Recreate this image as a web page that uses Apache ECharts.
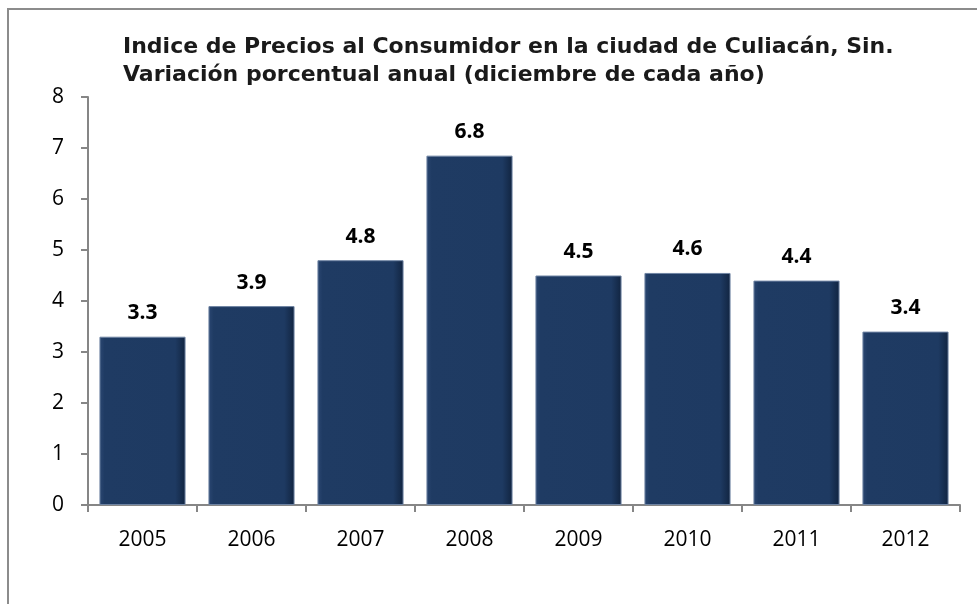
<!DOCTYPE html>
<html>
<head>
<meta charset="utf-8">
<script src="https://cdn.jsdelivr.net/npm/echarts@6/dist/echarts.min.js"></script>
<style>
  html, body { margin: 0; padding: 0; background: #fff; }
  #chart { width: 977px; height: 604px; }
</style>
</head>
<body>
<div id="chart"></div>
<script>
// datos
const years = ['2005', '2006', '2007', '2008', '2009', '2010', '2011', '2012'];
const values = [3.3, 3.9, 4.8, 6.85, 4.5, 4.55, 4.4, 3.4];
const labels = ['3.3', '3.9', '4.8', '6.8', '4.5', '4.6', '4.4', '3.4'];
const yTicks = [0, 1, 2, 3, 4, 5, 6, 7, 8];

const titleText = 'Indice de Precios al Consumidor en la ciudad de Culiacán, Sin.\nVariación porcentual anual (diciembre de cada año)';

let chart = echarts.init(document.getElementById('chart'), null, { renderer: 'canvas' });

const barColor = {
  type: 'linear', x: 0, y: 0, x2: 1, y2: 0,
  colorStops: [
    { offset: 0, color: '#2b4772' },
    { offset: 0.06, color: '#1f3b63' },
    { offset: 0.88, color: '#1e3a62' },
    { offset: 1, color: '#112440' }
  ]
};

const option = {
  backgroundColor: '#fff',
  animation: false,
  title: {
    text: titleText,
    left: 118,
    top: 28,
    textStyle: {
      fontFamily: 'DejaVu Sans',
      fontWeight: 'bold',
      fontSize: 22,
      lineHeight: 28,
      color: '#1a1a1a'
    }
  },
  grid: {
    left: 88,
    right: 17,
    top: 97,
    bottom: 99,
    containLabel: false
  },
  xAxis: {
    type: 'category',
    data: years,
    axisLine: { lineStyle: { color: '#868686', width: 2 } },
    axisTick: { show: true, length: 7, lineStyle: { color: '#868686', width: 2 } },
    axisLabel: {
      margin: 25,
      fontFamily: 'Open Sans',
      fontSize: 21,
      color: '#000'
    }
  },
  yAxis: {
    type: 'value',
    min: yTicks[0],
    max: yTicks[yTicks.length - 1],
    interval: 1,
    axisLine: { show: true, lineStyle: { color: '#868686', width: 2 } },
    axisTick: { show: true, length: 7, lineStyle: { color: '#868686', width: 2 } },
    splitLine: { show: false },
    axisLabel: {
      margin: 24,
      fontFamily: 'Open Sans',
      fontSize: 21,
      color: '#000'
    }
  },
  series: [
    {
      type: 'bar',
      data: values,
      barCategoryGap: '21%',
      itemStyle: {
        color: barColor,
        borderColor: '#6f84a3',
        borderWidth: 1
      },
      label: {
        show: true,
        position: 'top',
        distance: 13,
        formatter: (p) => labels[p.dataIndex],
        fontFamily: 'Open Sans',
        fontWeight: 'bold',
        fontSize: 21,
        color: '#000'
      }
    }
  ],
  graphic: [
    {
      type: 'polyline',
      shape: { points: [[8, 604], [8, 9], [977, 9]] },
      style: { stroke: '#8c8c8c', lineWidth: 2, fill: null },
      silent: true
    }
  ]
};

chart.setOption(option);
</script>
</body>
</html>
